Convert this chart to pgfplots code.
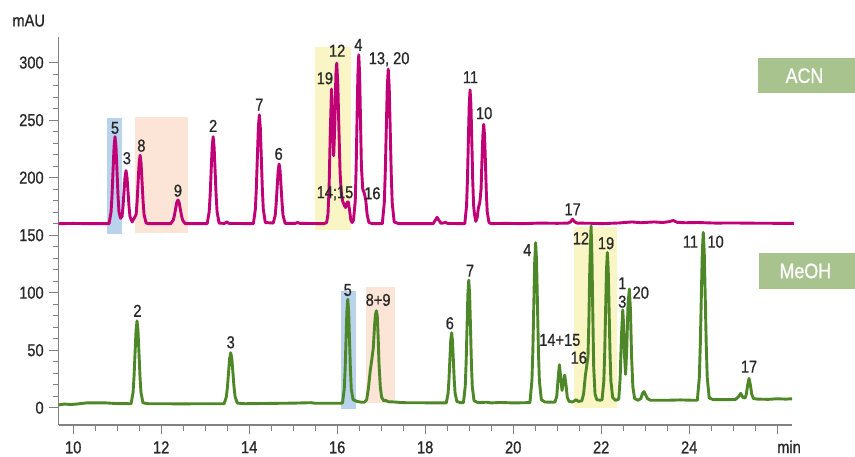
\documentclass[border=0pt]{standalone}
\usepackage{fontspec}
\setmainfont{Liberation Sans}[FakeStretch=0.85, FakeBold=0.8]
\usepackage{pgfplots}
\pgfplotsset{compat=1.18}
\definecolor{acn}{RGB}{192,0,118}
\definecolor{meoh}{RGB}{78,135,40}
\definecolor{hlblue}{RGB}{184,211,235}
\definecolor{hlpeach}{RGB}{252,228,214}
\definecolor{hlyellow}{RGB}{250,245,196}
\definecolor{boxgreen}{RGB}{169,195,143}
\definecolor{axisgray}{RGB}{130,130,130}
\definecolor{labeltext}{RGB}{40,40,40}
\tikzset{lab/.style={font=\fontsize{8.6}{10}\selectfont, text=labeltext, inner sep=0pt}}
\begin{document}
\begin{tikzpicture}
\useasboundingbox (-29.35pt,-15.5pt) rectangle (398.15pt,212.5pt);
\begin{axis}[
  at={(0,0)}, anchor=south west, scale only axis,
  width=366.5pt, height=194.2pt,
  xmin=9.67, xmax=26.33, ymin=-15, ymax=322.6,
  axis lines=left,
  axis line style={-, draw=axisgray, line width=0.6pt},
  tick align=outside,
  xtick={10,12,...,26}, xticklabels={10,12,14,16,18,20,22,24,{}},
  minor x tick num=3,
  ytick={0,50,...,300}, minor y tick num=4,
  major tick length=4.6pt, minor tick length=3pt,
  every tick/.style={draw=axisgray, line width=0.6pt},
  every tick label/.append style={font=\fontsize{8.6}{10}\selectfont, text=labeltext},
  yticklabel style={xshift=0.6pt},
  /pgf/number format/assume math mode=true,
  clip=false,
]
% highlight boxes
\fill[hlblue] (axis cs:10.77,150.8) rectangle (axis cs:11.10,251.9);
\fill[hlpeach] (axis cs:11.40,152.2) rectangle (axis cs:12.60,252.8);
\fill[hlyellow] (axis cs:15.50,154.5) rectangle (axis cs:16.31,313.4);
\fill[hlblue] (axis cs:16.08,-1) rectangle (axis cs:16.43,101.5);
\fill[hlpeach] (axis cs:16.65,4.3) rectangle (axis cs:17.31,105);
\fill[hlyellow] (axis cs:21.38,-0.5) rectangle (axis cs:22.35,156.9);

% ACN trace
\addplot[acn, line width=1.45pt, line join=round, no marks] coordinates {
(9.67,160) (10.0,160.2) (10.4,160) (10.815,160)
(10.86,170.2) (10.882,184.6) (10.905,205.9) (10.928,226.7) (10.95,235.6)
(10.972,226.7) (10.995,205.9) (11.018,184.6) (11.04,170.2) (11.075,164.7)
(11.11,166.2) (11.132,175) (11.155,188) (11.178,200.7) (11.20,206.1)
(11.222,200.7) (11.245,188) (11.268,175) (11.29,166.2) (11.34,161.5)
(11.43,168) (11.452,179.3) (11.475,196.1) (11.498,212.5) (11.52,219.5)
(11.542,212.5) (11.565,196.1) (11.588,179.3) (11.61,168) (11.655,160.7) (11.7,160)
(12.215,160) (12.27,162.8) (12.2975,166.7) (12.325,172.5) (12.3525,178.2) (12.38,180.6)
(12.4075,178.2) (12.435,172.5) (12.4625,166.7) (12.49,162.8) (12.545,160)
(13.045,160) (13.09,170.2) (13.112,184.6) (13.135,205.9) (13.158,226.7) (13.18,235.6)
(13.202,226.7) (13.225,205.9) (13.248,184.6) (13.27,170.2) (13.315,160.5)
(13.44,160.2) (13.49,161.5) (13.54,160.2)
(14.095,160) (14.14,172.8) (14.162,190.7) (14.185,217.4) (14.208,243.4) (14.23,254.5)
(14.252,243.4) (14.275,217.4) (14.298,190.7) (14.32,172.8) (14.365,161)
(14.545,160.5) (14.59,167) (14.612,176.9) (14.635,191.5) (14.658,205.8) (14.68,211.9)
(14.702,205.8) (14.725,191.5) (14.748,176.9) (14.77,167) (14.815,160.3)
(15.05,160.3) (15.1,161) (15.15,160.3)
(15.70,160) (15.76,161) (15.79,168) (15.815,190) (15.84,235) (15.87,277)
(15.895,250) (15.92,219) (15.945,245) (15.97,290) (15.99,299.5) (16.015,280)
(16.04,240) (16.065,205) (16.09,188) (16.12,180) (16.16,176) (16.19,174)
(16.225,178.5) (16.25,179) (16.28,172) (16.31,163) (16.34,161)
(16.37,163) (16.41,179.8) (16.43,207.7) (16.45,249) (16.47,289.5) (16.49,306.7)
(16.51,289.5) (16.53,249) (16.55,210) (16.58,190) (16.62,186) (16.65,180)
(16.68,168) (16.72,161) (16.8,160)
(17.025,160) (17.07,178.1) (17.092,203.6) (17.115,241.5) (17.138,278.5) (17.16,294.3)
(17.182,278.5) (17.205,241.5) (17.228,203.6) (17.25,178.1) (17.295,161.5) (17.4,160)
(18.18,160) (18.23,163) (18.27,165.6) (18.31,163) (18.36,160.3) (18.46,161) (18.52,160.2)
(18.9,160) (18.94,175.7) (18.96,197.8) (18.98,230.6) (19.0,262.6) (19.02,276.3)
(19.04,262.6) (19.06,230.6) (19.08,197.8) (19.10,176) (19.12,168) (19.15,162)
(19.18,165) (19.21,174) (19.24,178) (19.27,190) (19.29,215) (19.31,236) (19.33,246.4)
(19.35,236) (19.37,212) (19.39,186) (19.41,170) (19.45,161) (19.5,160)
(19.8,160.3) (20.2,160) (20.6,160.5) (21.0,160.3) (21.25,160.5) (21.3,161.5)
(21.35,163.8) (21.4,161.5) (21.45,160.5) (21.8,160.3) (22.0,160) (22.4,160.6)
(22.7,161.5) (22.9,160.8) (23.2,161.5) (23.4,161) (23.55,161.8) (23.64,162.8)
(23.72,161.2) (23.9,160.8) (24.2,161) (24.6,160.5) (25.0,160.6) (25.5,160.4)
(26.0,160.3) (26.38,160.3)
};

% MeOH trace
\addplot[meoh, line width=1.45pt, line join=round, no marks] coordinates {
(9.67,2.5) (9.8,3.2) (9.95,2.8) (10.1,3.3) (10.3,4.2) (10.7,4.3) (11.0,3.6) (11.315,3.5)
(11.36,13.2) (11.382,26.9) (11.405,47.2) (11.428,67) (11.45,75.5)
(11.472,67) (11.495,47.2) (11.518,26.9) (11.54,13.2) (11.585,4.3) (11.7,3.5)
(12.5,3.4) (13.0,3.5) (13.43,3.5)
(13.48,9.5) (13.505,17.9) (13.53,30.4) (13.555,42.6) (13.58,47.8)
(13.605,42.6) (13.63,30.4) (13.655,17.9) (13.68,9.5) (13.73,4) (13.9,3.5)
(14.5,3.8) (15.0,4.0) (15.4,4.4) (15.5,3.9) (16.0,3.9) (16.12,4)
(16.16,16.2) (16.18,33.3) (16.2,58.8) (16.22,83.7) (16.24,94.3)
(16.26,83.7) (16.28,58.8) (16.3,33.3) (16.32,16.2) (16.36,7) (16.45,5.5) (16.55,4.8)
(16.62,4.8) (16.67,7) (16.71,17) (16.75,32) (16.78,40) (16.82,52) (16.85,72)
(16.87,81) (16.89,84.3) (16.91,80) (16.93,62) (16.95,38) (16.98,18) (17.01,9)
(17.06,6) (17.1,6.5) (17.16,5.2) (17.3,5) (17.5,4.4) (18.0,4.3) (18.48,4.3)
(18.52,12.5) (18.54,24.1) (18.56,41.3) (18.58,58.1) (18.60,65.2)
(18.62,58.1) (18.64,41.3) (18.66,24.1) (18.68,12.5) (18.72,5.5) (18.8,4.4) (18.87,4.5)
(18.91,18.7) (18.93,39) (18.95,69) (18.97,98.5) (18.99,111)
(19.01,98.5) (19.03,69) (19.05,39) (19.07,18.7) (19.11,6) (19.2,4.5)
(19.4,4.8) (19.5,4.2) (19.7,4.6) (20.0,4.2) (20.3,4.4) (20.38,4.5)
(20.425,23.3) (20.447,49.7) (20.468,88.9) (20.489,127.2) (20.51,143.5)
(20.531,127.2) (20.552,88.9) (20.573,49.7) (20.595,23.3) (20.64,7) (20.72,5) (20.9,4.8)
(20.95,5) (20.99,10) (21.02,25) (21.05,37.4) (21.08,26) (21.11,15) (21.14,22)
(21.17,28.4) (21.2,20) (21.23,9) (21.27,5.5) (21.35,5) (21.43,7) (21.48,5.5)
(21.56,6) (21.6,12) (21.64,28) (21.67,36) (21.7,45) (21.72,75) (21.74,120)
(21.77,158) (21.79,130) (21.81,80) (21.83,35) (21.86,12) (21.9,7) (21.98,6.5) (22.02,7)
(22.06,23.4) (22.08,48) (22.10,84.3) (22.12,119.8) (22.14,135)
(22.16,119.8) (22.18,84.3) (22.20,48) (22.22,23.4) (22.26,9) (22.32,6.5) (22.38,7)
(22.40,8) (22.43,25) (22.46,62) (22.49,85) (22.51,72) (22.53,45) (22.555,29)
(22.58,50) (22.61,90) (22.64,103.2) (22.665,85) (22.69,45) (22.72,18) (22.76,8)
(22.84,6.5) (22.9,8) (22.94,12.5) (22.97,14) (23.0,12) (23.05,8) (23.12,6.5)
(23.5,6.5) (23.8,6.8) (24.1,6.5) (24.185,6.5)
(24.23,26.2) (24.252,54) (24.275,95.1) (24.298,135.3) (24.32,152.5)
(24.342,135.3) (24.365,95.1) (24.388,54) (24.41,26.2) (24.455,8.5) (24.55,7)
(24.8,7) (25.05,7.2) (25.12,9.5) (25.17,12.5) (25.22,9) (25.27,8.5)
(25.3,12) (25.33,20) (25.36,25.5) (25.39,20) (25.42,12) (25.46,8)
(25.55,7.5) (25.8,7.3) (26.0,7.8) (26.2,7.5) (26.34,7.8)
};

% ACN labels
\node[lab] at (axis cs:10.95,243.2) {5};
\node[lab] at (axis cs:11.22,216.9) {3};
\node[lab] at (axis cs:11.55,227.8) {8};
\node[lab] at (axis cs:12.38,188.7) {9};
\node[lab] at (axis cs:13.18,245) {2};
\node[lab] at (axis cs:14.23,263.5) {7};
\node[lab] at (axis cs:14.67,220.6) {6};
\node[lab] at (axis cs:15.72,286.4) {19};
\node[lab] at (axis cs:16.0,310.4) {12};
\node[lab] at (axis cs:16.48,315.4) {4};
\node[lab] at (axis cs:17.18,302.9) {13, 20};
\node[lab] at (axis cs:15.95,186.4) {14;15};
\node[lab] at (axis cs:16.8,186.4) {16};
\node[lab] at (axis cs:19.03,287.3) {11};
\node[lab] at (axis cs:19.34,256) {10};
\node[lab] at (axis cs:21.35,172.5) {17};
% MeOH labels
\node[lab] at (axis cs:11.46,84.3) {2};
\node[lab] at (axis cs:13.58,56.9) {3};
\node[lab] at (axis cs:16.24,102.3) {5};
\node[lab] at (axis cs:16.93,93.7) {8+9};
\node[lab] at (axis cs:18.56,73.4) {6};
\node[lab] at (axis cs:19.02,119.1) {7};
\node[lab] at (axis cs:20.32,137.1) {4};
\node[lab] at (axis cs:21.06,58.9) {14+15};
\node[lab] at (axis cs:21.49,43.5) {16};
\node[lab] at (axis cs:21.54,147.3) {12};
\node[lab] at (axis cs:22.11,143) {19};
\node[lab] at (axis cs:22.48,108.2) {1};
\node[lab] at (axis cs:22.48,92.2) {3};
\node[lab] at (axis cs:22.9,100) {20};
\node[lab] at (axis cs:24.03,144.3) {11};
\node[lab] at (axis cs:24.6,144.3) {10};
\node[lab] at (axis cs:25.36,35.7) {17};

% solvent boxes
\fill[boxgreen] (axis cs:25.57,273.4) rectangle (axis cs:27.9,303.8);
\node[font=\fontsize{10.5}{12}\selectfont, text=white] at (axis cs:26.62,288.6) {ACN};
\fill[boxgreen] (axis cs:25.59,103.5) rectangle (axis cs:27.9,134.3);
\node[font=\fontsize{10.5}{12}\selectfont, text=white] at (axis cs:26.64,118.9) {MeOH};

% axis unit labels
\node[lab, anchor=base] at (axis cs:26.27,-15) [yshift=-14pt] {min};
\node[lab] at (rel axis cs:0,1) [xshift=-15pt, yshift=8pt] {mAU};
\end{axis}
\end{tikzpicture}
\end{document}
